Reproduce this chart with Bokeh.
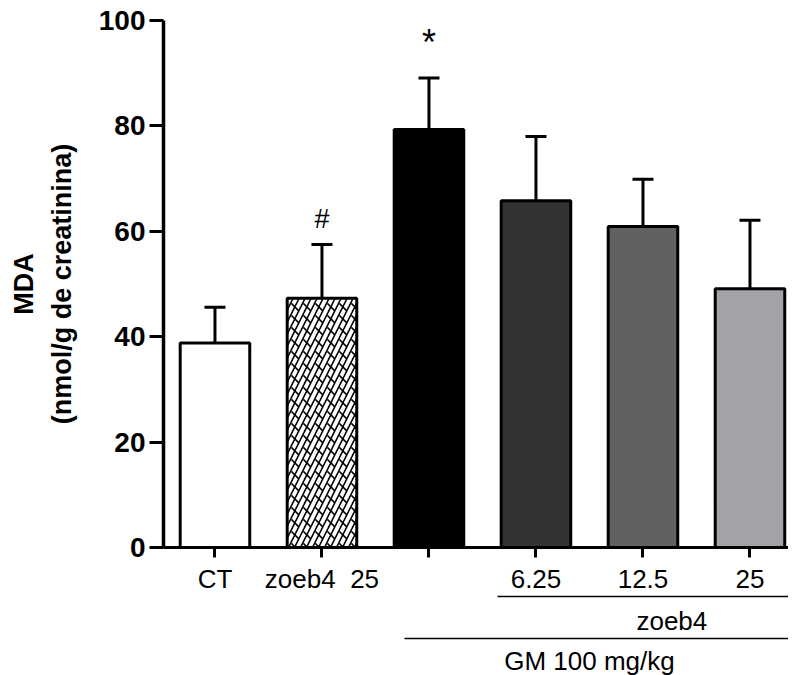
from bokeh.plotting import figure
from bokeh.models import (ColumnDataSource, Range1d, FixedTicker, Whisker, TeeHead,
                          LinearAxis)
from bokeh.embed import file_html
from bokeh.resources import INLINE
from bokeh.core.properties import value

# ---------------- data ----------------
groups = ["CT", "zoeb4 25", "GM", "GM+zoeb4 6.25", "GM+zoeb4 12.5", "GM+zoeb4 25"]
tick_labels = ["CT", "zoeb4\u00a0\u00a025", " ", "6.25", "12.5", "25"]
mda_mean = [38.8, 47.3, 79.3, 65.8, 60.9, 49.1]
mda_err = [6.8, 10.2, 9.8, 12.2, 9.0, 13.0]
bar_colors = ["#ffffff", "#ffffff", "#000000", "#333333", "#616161", "#a3a2a6"]
bar_hatch = [" ", "/", " ", " ", " ", " "]
bar_dash = [" ", "`", " ", " ", " ", " "]
marks = ["", "#", "*", "", "", ""]
y_ticks = [0, 20, 40, 60, 80, 100]
y_title = ["MDA", "(nmol/g de creatinina)"]
bracket_inner = dict(start=2.64, label_at=4.27, label="zoeb4")
bracket_outer = dict(start=1.77, label_at=3.5, label="GM 100 mg/kg")

FONT = "Liberation Sans"
X_END = 5.36
MARK_STYLE = {"#": ("27px", 4.9), "*": ("36px", 6.8)}   # font size, gap above cap

x = list(range(len(groups)))
upper = [m + e for m, e in zip(mda_mean, mda_err)]
src = ColumnDataSource(dict(x=x, top=mda_mean, upper=upper, lower=mda_mean,
                            color=bar_colors, hatch=bar_hatch, dash=bar_dash))

p = figure(width=788, height=667, frame_width=625, frame_height=527,
           min_border_left=163, min_border_right=0, min_border_top=20, min_border_bottom=120,
           x_range=Range1d(-0.481, X_END), y_range=Range1d(0, 100),
           output_backend="svg", toolbar_location=None, tools="")
p.outline_line_color = None
p.xgrid.visible = False
p.ygrid.visible = False
p.background_fill_color = "white"
p.border_fill_color = "white"

# error bars (upper only)
wh = Whisker(base="x", upper="upper", lower="lower", source=src, dimension="height",
             line_width=3, line_color="black",
             upper_head=TeeHead(size=21, line_width=3, line_color="black"), lower_head=None)
p.add_layout(wh)

# bars
p.vbar(x="x", top="top", bottom=0, width=0.65, source=src, fill_color="color",
       line_color="black", line_width=3, hatch_pattern="hatch", hatch_color="black",
       hatch_scale=12, hatch_weight=1.6)
p.vbar(x="x", top="top", bottom=0, width=0.65, source=src, fill_alpha=0,
       line_alpha=0, hatch_pattern="dash", hatch_color="black",
       hatch_scale=12, hatch_weight=1.6)

# significance marks
mk_src = ColumnDataSource(dict(
    x=[xi for xi, m in zip(x, marks) if m],
    y=[u + MARK_STYLE[m][1] for u, m in zip(upper, marks) if m],
    t=[m for m in marks if m],
    s=[MARK_STYLE[m][0] for m in marks if m]))
p.text(x="x", y="y", text="t", source=mk_src, text_align="center",
       text_baseline="alphabetic", text_font=value(FONT), text_font_size="s",
       text_color="black")

# y axis
p.yaxis.ticker = FixedTicker(ticks=y_ticks)
p.yaxis.axis_line_width = 3.5
p.yaxis.major_tick_line_width = 3
p.yaxis.major_tick_out = 14
p.yaxis.major_tick_in = 0
p.yaxis.minor_tick_line_color = None
p.yaxis.major_label_text_font = FONT
p.yaxis.major_label_text_font_style = "bold"
p.yaxis.major_label_text_font_size = "28px"
p.yaxis.major_label_text_color = "black"
p.yaxis.major_label_standoff = 4
p.yaxis.axis_label = y_title[1]
p.yaxis.axis_label_text_font = FONT
p.yaxis.axis_label_text_font_style = "bold"
p.yaxis.axis_label_text_font_size = "27px"
p.yaxis.axis_label_text_color = "black"
p.yaxis.axis_label_standoff = 19

title_axis = LinearAxis(ticker=FixedTicker(ticks=[]), axis_line_color=None,
                        major_tick_out=0, minor_tick_out=0, major_label_standoff=0,
                        axis_label=y_title[0], axis_label_standoff=5,
                        axis_label_text_font=FONT, axis_label_text_font_style="bold",
                        axis_label_text_font_size="27px", axis_label_text_color="black")
p.add_layout(title_axis, "left")

# x axis
p.xaxis.ticker = FixedTicker(ticks=x)
p.xaxis.major_label_overrides = {xi: lab for xi, lab in zip(x, tick_labels)}
p.xaxis.axis_line_width = 3
p.xaxis.major_tick_line_width = 3
p.xaxis.major_tick_out = 10
p.xaxis.major_tick_in = 0
p.xaxis.minor_tick_line_color = None
p.xaxis.major_label_text_font = FONT
p.xaxis.major_label_text_font_size = "26px"
p.xaxis.major_label_text_color = "black"
p.xaxis.major_label_standoff = 6

# group brackets as extra bounded axes below
for br, standoff in [(bracket_inner, 9), (bracket_outer, 7)]:
    ax = LinearAxis(bounds=(br["start"], X_END), ticker=FixedTicker(ticks=[br["label_at"]]),
                    major_label_overrides={br["label_at"]: br["label"]},
                    axis_line_width=1.5, axis_line_color="black",
                    major_tick_line_color=None, major_tick_out=0, major_tick_in=0,
                    minor_tick_line_color=None, minor_tick_out=0,
                    major_label_standoff=standoff, major_label_text_font=FONT,
                    major_label_text_font_size="26px", major_label_text_color="black")
    p.add_layout(ax, "below")

open("out.html", "w").write(file_html(p, INLINE))
